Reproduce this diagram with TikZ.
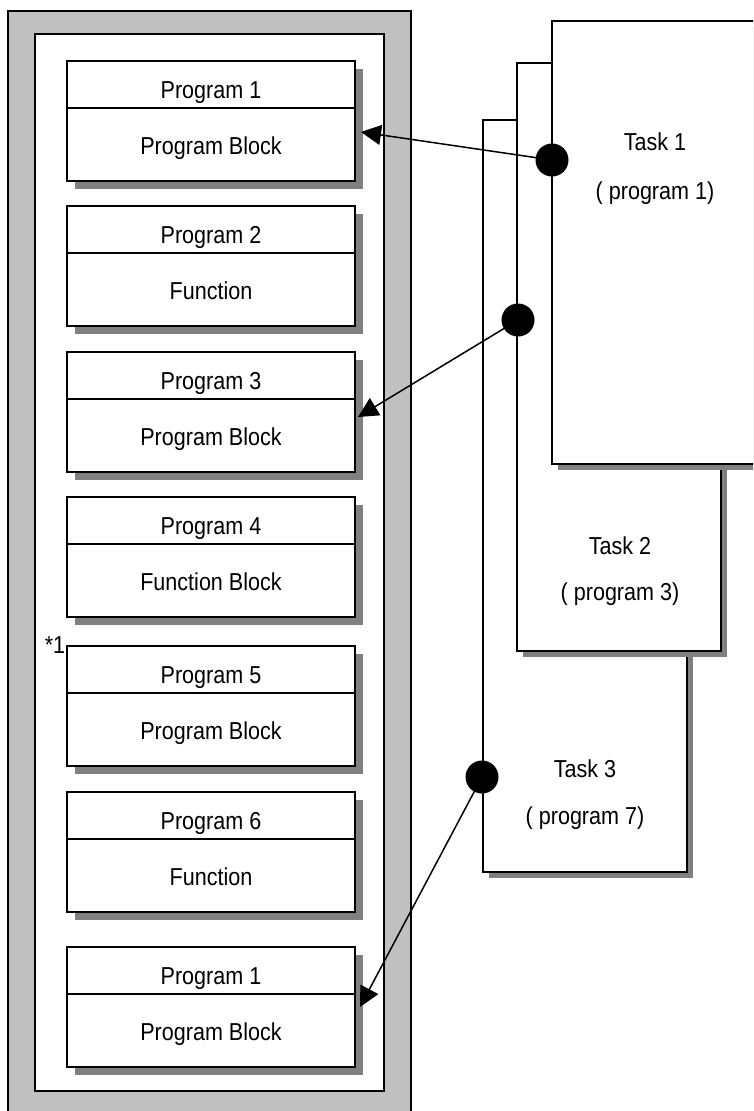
\documentclass[tikz,border=0pt]{standalone}
\usepackage{fontspec}
\setmainfont{Liberation Sans}[FakeStretch=0.88]
\usetikzlibrary{arrows.meta,shadows}
\definecolor{framegray}{RGB}{192,192,192}
\definecolor{shadowgray}{RGB}{128,128,128}
\tikzset{
  ln/.style={line width=1.8pt},
  progbox/.style={draw, line width=1.8pt, fill=white, minimum width=288pt, minimum height=120pt, inner sep=0pt,
    drop shadow={shadow xshift=7.5pt, shadow yshift=-7.5pt, fill=shadowgray, opacity=1}},
  taskbox/.style={draw, line width=1.8pt, fill=white, inner sep=0pt,
    drop shadow={shadow xshift=6pt, shadow yshift=-6pt, fill=shadowgray, opacity=1}},
  lbl/.style={font=\fontsize{24.5}{28}\selectfont, inner sep=0pt, anchor=base},
  bigdot/.style={circle, fill=black, minimum size=33pt, inner sep=0pt},
  conn/.style={line width=1.5pt, -{Triangle[length=20pt,width=20pt]}}
}
\begin{document}
\begin{tikzpicture}[x=1pt,y=-1pt]
\useasboundingbox (0,0) rectangle (753,1111);
\clip (0,0) rectangle (753,1111);
% frame
\draw[ln, fill=framegray] (8,11) rectangle (411,1130);
\draw[ln, fill=white] (35,34) rectangle (384,1091);
% program boxes
\foreach \n/\t/\a/\b in {1/61/Program 1/Program Block, 2/206/Program 2/Function, 3/352/Program 3/Program Block, 4/497/Program 4/Function Block, 5/646/Program 5/Program Block, 6/792/Program 6/Function, 7/947/Program 1/Program Block}{
  \node[progbox] (p\n) at (211,\t+60) {};
  \draw[ln] ([yshift=-48pt]p\n.north west) -- ([yshift=-48pt]p\n.north east);
  \node[lbl] (pt\n) at (211,\t+37) {\a};
  \node[lbl] (pb\n) at (211,\t+93) {\b};
}
\node[lbl] (star) at (55,653) {*1};
% task boxes
\node[taskbox, minimum width=204pt, minimum height=752pt] (t3) at (585,496) {};
\node[taskbox, minimum width=204pt, minimum height=588pt] (t2) at (619,357) {};
\node[taskbox, minimum width=206pt, minimum height=443pt] (t1) at (655,242.5) {};
\node[lbl] (t1a) at (655,150) {Task 1};
\node[lbl] (t1b) at (655,199) {( program 1)};
\node[lbl] (t2a) at (620,554) {Task 2};
\node[lbl] (t2b) at (620,600) {( program 3)};
\node[lbl] (t3a) at (585,777) {Task 3};
\node[lbl] (t3b) at (585,824) {( program 7)};
% dots and arrows
\coordinate (d1) at (552,160);
\coordinate (d2) at (518,320);
\coordinate (d3) at (482,777);
\coordinate (a1) at (361,132);
\coordinate (a2) at (358,417);
\coordinate (a3) at (360,1007);
\draw[conn] (d1) -- (a1);
\draw[conn] (d2) -- (a2);
\draw[conn] (d3) -- (a3);
\node[bigdot] (c1) at (d1) {};
\node[bigdot] (c2) at (d2) {};
\node[bigdot] (c3) at (d3) {};
\end{tikzpicture}
\end{document}
